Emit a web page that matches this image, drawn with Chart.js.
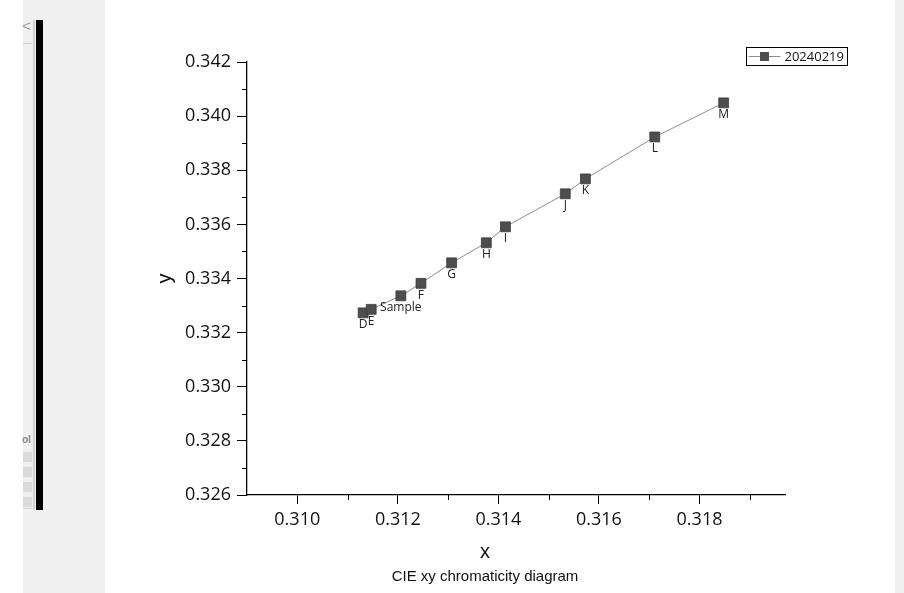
<!DOCTYPE html>
<html>
<head>
<meta charset="utf-8">
<title>CIE xy chromaticity diagram</title>
<script src="https://cdn.jsdelivr.net/npm/chart.js@4.4.1/dist/chart.umd.min.js"></script>
<style>
  html, body { margin: 0; padding: 0; background: #fff; width: 904px; height: 593px; overflow: hidden; position: relative; }
  .side { position: absolute; left: 23px; top: 0; width: 82px; height: 593px; background: #f0f0f0; }
  .rule { position: absolute; left: 33px; top: 20px; width: 2px; height: 490px; background: #d2d2d2; }
  .bar { position: absolute; left: 36px; top: 20px; width: 7px; height: 490px; background: #000; }
  .chev { position: absolute; left: 22px; top: 17px; font: 15px "Liberation Sans", sans-serif; color: #9a9a9a; }
  .hline { position: absolute; left: 23px; width: 9px; height: 1px; background: #cfcfcf; }
  .btn { position: absolute; left: 23px; width: 9px; height: 10px; background: #dadada; }
  .ol { position: absolute; left: 22px; top: 434px; font: bold 10px "Liberation Sans", sans-serif; color: #8a8a8a; }
  .rstrip { position: absolute; left: 895px; top: 0; width: 9px; height: 593px; background: #f0f0f0; }
  #wrap { position: absolute; left: 105px; top: 0; width: 790px; height: 593px; }
</style>
</head>
<body>
<div class="side"></div>
<div class="rule"></div>
<div class="bar"></div>
<div class="chev">&lt;</div>
<div class="hline" style="top:43px"></div>
<div class="ol">ol</div>
<div class="btn" style="top:452px"></div>
<div class="btn" style="top:467px"></div>
<div class="btn" style="top:482px"></div>
<div class="btn" style="top:497px"></div>
<div class="hline" style="top:508px"></div>
<div class="rstrip"></div>
<div id="wrap"><canvas id="cie" width="790" height="593"></canvas></div>

<script>
// Measured chromaticity coordinates, one entry per sample point
const pointNames = ['D', 'E', 'Sample', 'F', 'G', 'H', 'I', 'J', 'K', 'L', 'M'];
const xValues = [0.31131, 0.31147, 0.31206, 0.31246, 0.31307, 0.31376, 0.31414, 0.31533, 0.31573, 0.31711, 0.31848];
const yValues = [0.33273, 0.33286, 0.33336, 0.33382, 0.33458, 0.33532, 0.33591, 0.33713, 0.33768, 0.33923, 0.34049];
const seriesName = '20240219';

// Axis ticks
const xTickLabels = ['0.310', '0.312', '0.314', '0.316', '0.318'];
const yTickLabels = ['0.326', '0.328', '0.330', '0.332', '0.334', '0.336', '0.338', '0.340', '0.342'];
const xMinorTicks = ['0.311', '0.313', '0.315', '0.317', '0.319'];
const yMinorTicks = ['0.327', '0.329', '0.331', '0.333', '0.335', '0.337', '0.339', '0.341'];

const LINE_COLOR = '#8e8e8e';
const MARK_COLOR = '#4d4d4d';
const TEXT_COLOR = '#111';

// Short outward minor ticks between the labelled ones
const minorTickPlugin = {
  id: 'minorTicks',
  afterDraw(chart) {
    const { ctx } = chart;
    const xs = chart.scales.x, ys = chart.scales.y;
    ctx.save();
    ctx.strokeStyle = '#000';
    ctx.lineWidth = 1;
    ctx.beginPath();
    xMinorTicks.forEach(t => {
      const px = Math.round(xs.getPixelForValue(parseFloat(t))) + 0.5;
      ctx.moveTo(px, xs.top);
      ctx.lineTo(px, xs.top + 5);
    });
    yMinorTicks.forEach(t => {
      const py = Math.round(ys.getPixelForValue(parseFloat(t))) + 0.5;
      ctx.moveTo(ys.right, py);
      ctx.lineTo(ys.right - 5, py);
    });
    ctx.stroke();
    ctx.restore();
  }
};

// Name of each point written just below its marker
const pointNamePlugin = {
  id: 'pointNames',
  afterDatasetsDraw(chart) {
    const { ctx } = chart;
    const meta = chart.getDatasetMeta(0);
    ctx.save();
    ctx.font = '12px "Open Sans"';
    ctx.fillStyle = '#222';
    ctx.textAlign = 'center';
    ctx.textBaseline = 'middle';
    meta.data.forEach((pt, i) => {
      ctx.fillText(pointNames[i], pt.x, pt.y + 12);
    });
    ctx.restore();
  }
};

// Framed legend in the upper right corner
const framedLegendPlugin = {
  id: 'framedLegend',
  afterDraw(chart) {
    const { ctx } = chart;
    const ds = chart.data.datasets[0];
    const left = 641.5, top = 47.5, w = 101, h = 18;
    const cy = top + h / 2;
    ctx.save();
    ctx.strokeStyle = '#000';
    ctx.lineWidth = 1;
    ctx.strokeRect(left, top, w, h);
    ctx.strokeStyle = ds.borderColor;
    ctx.beginPath();
    ctx.moveTo(left + 2, cy);
    ctx.lineTo(left + 34, cy);
    ctx.stroke();
    ctx.fillStyle = ds.pointBackgroundColor;
    ctx.fillRect(left + 13.5, cy - 4.5, 9, 9);
    ctx.font = '13px "Open Sans"';
    ctx.fillStyle = TEXT_COLOR;
    ctx.textAlign = 'left';
    ctx.textBaseline = 'middle';
    ctx.fillText(ds.label, left + 38, cy + 0.5);
    ctx.restore();
  }
};

function build() {
  new Chart(document.getElementById('cie'), {
    type: 'scatter',
    data: {
      datasets: [{
        label: seriesName,
        data: xValues.map((x, i) => ({ x, y: yValues[i] })),
        showLine: true,
        borderColor: LINE_COLOR,
        borderWidth: 1,
        pointStyle: 'rect',
        pointRadius: 7,
        pointBackgroundColor: MARK_COLOR,
        pointBorderColor: '#3e3e3e',
        pointBorderWidth: 0.8,
        tension: 0
      }]
    },
    options: {
      responsive: false,
      animation: false,
      events: [],
      layout: { padding: { top: 62, right: 30, left: 0, bottom: 0 } },
      plugins: {
        legend: { display: false },
        tooltip: { enabled: false },
        // axis name directly under the x tick labels
        subtitle: {
          display: true,
          position: 'bottom',
          text: 'x',
          color: TEXT_COLOR,
          font: { family: '"Liberation Sans", Arial, sans-serif', size: 20, weight: 'normal' },
          padding: { top: 0, bottom: 4 }
        },
        title: {
          display: true,
          position: 'bottom',
          text: 'CIE xy chromaticity diagram',
          color: TEXT_COLOR,
          font: { family: '"Liberation Sans", Arial, sans-serif', size: 15, weight: 'normal' },
          padding: { top: 0, bottom: 7 }
        }
      },
      scales: {
        x: {
          type: 'linear',
          min: 0.309,
          max: 0.3197,
          afterBuildTicks(scale) {
            scale.ticks = xTickLabels.map(t => ({ value: parseFloat(t) }));
          },
          afterFit(scale) { scale.height = 45; },
          ticks: {
            callback: (v, i) => xTickLabels[i],
            color: TEXT_COLOR,
            font: { family: '"Open Sans"', size: 18 },
            padding: 5,
            maxRotation: 0,
            autoSkip: false
          },
          grid: { drawOnChartArea: false, drawTicks: true, tickLength: 9, color: '#000', lineWidth: 1 },
          border: { display: true, color: '#000', width: 1.3 }
        },
        y: {
          type: 'linear',
          min: 0.326,
          max: 0.342,
          afterBuildTicks(scale) {
            scale.ticks = yTickLabels.map(t => ({ value: parseFloat(t) }));
          },
          afterFit(scale) { scale.width = 142; },
          ticks: {
            callback: (v, i) => yTickLabels[i],
            color: TEXT_COLOR,
            font: { family: '"Open Sans"', size: 18 },
            padding: 6,
            autoSkip: false
          },
          grid: { drawOnChartArea: false, drawTicks: true, tickLength: 10, color: '#000', lineWidth: 1 },
          border: { display: true, color: '#000', width: 1.3 },
          title: {
            display: true,
            text: 'y',
            color: TEXT_COLOR,
            font: { family: '"Liberation Sans", Arial, sans-serif', size: 20 },
            padding: { top: 48, bottom: 0 }
          }
        },
        // empty right-hand band that keeps the plot clear of the legend column
        yRight: {
          type: 'linear',
          position: 'right',
          min: 0.326,
          max: 0.342,
          afterFit(scale) { scale.width = 80; },
          ticks: { display: false },
          grid: { display: false, drawTicks: false },
          border: { display: false }
        }
      }
    },
    plugins: [minorTickPlugin, pointNamePlugin, framedLegendPlugin]
  });
}

const fontLoads = [
  '18px "Open Sans"', '12px "Open Sans"', '13px "Open Sans"',
  '20px "Liberation Sans"', '15px "Liberation Sans"'
].map(f => document.fonts.load(f));
Promise.all(fontLoads).then(build, build);
</script>
</body>
</html>
